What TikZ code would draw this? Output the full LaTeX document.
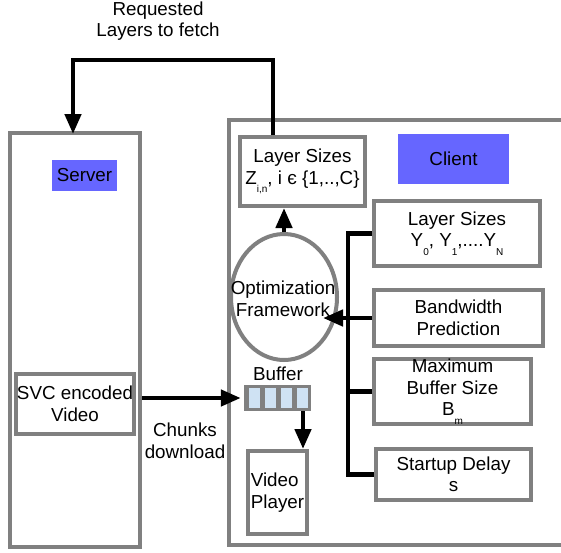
\documentclass[tikz,border=0pt]{standalone}
\usepackage{fontspec}
\setmainfont{Liberation Sans}
\usetikzlibrary{arrows.meta,shapes.geometric,calc}
\newcommand\sbs[1]{\raisebox{-0.45em}{\fontsize{10}{10}\selectfont #1}}
\newcommand\fsz{\fontsize{18.8}{21.5}\selectfont}
\definecolor{bgray}{RGB}{128,128,128}
\definecolor{lblue}{RGB}{102,102,255}
\definecolor{cellblue}{RGB}{207,226,243}
\begin{document}
\begin{tikzpicture}[x=1pt,y=-1pt,
  box/.style={draw=bgray,line width=4pt,inner sep=0pt,fill=white,align=center,font=\fsz,rectangle},
  lab/.style={fill=lblue,inner sep=0pt,font=\fsz},
  txt/.style={inner sep=0pt,align=center,font=\fsz},
  conn/.style={line width=4.5pt,line join=miter},
  arr/.style={conn,-{Triangle[length=20pt,width=16pt]}},
  cell/.style={fill=cellblue,draw=none,inner sep=0pt,minimum width=11pt,minimum height=20pt}
]
\useasboundingbox (0,0) rectangle (561,552);
\clip (0,0) rectangle (561,552);
% containers
\node[box,minimum width=371pt,minimum height=425pt] (client) at (414.5,332.5) {};
\node[box,minimum width=130pt,minimum height=414pt] (server) at (75,340) {};
\node[lab,minimum width=65pt,minimum height=31pt] (serverlab) at (84.5,175.5) {Server};
\node[lab,minimum width=111pt,minimum height=50pt] (clientlab) at (453.5,159) {Client};
% server content
\node[box,minimum width=118pt,minimum height=60pt] (svc) at (75,404) {SVC encoded\\Video};
% client content
\node[box,minimum width=125pt,minimum height=69pt] (zbox) at (302.5,171.5) {Layer Sizes\\Z\sbs{i,n}, i є \{1,..,C\}};
\node[box,minimum width=166pt,minimum height=65pt] (ybox) at (457,233.5) {Layer Sizes\\Y\sbs{0}, Y\sbs{1},....Y\sbs{N}};
\node[box,minimum width=169pt,minimum height=56pt] (bw) at (458.5,318) {Bandwidth\\Prediction};
\node[box,minimum width=157pt,minimum height=65pt] (mb) at (452.5,391.5) {Maximum\\Buffer Size\\B\sbs{m}};
\node[box,minimum width=155pt,minimum height=51pt] (sd) at (453.5,474.5) {Startup Delay\\s};
\node[box,minimum width=59pt,minimum height=83pt,align=left] (vp) at (277.5,492.5) {Video\\Player};
\node[box,shape=ellipse,minimum width=106pt,minimum height=126pt,fill=none] (opt) at (284,297) {};
\node[txt] (opttxt) at (283,299) {Optimization\\Framework};
% buffer
\node[fill=bgray,inner sep=0pt,minimum width=67pt,minimum height=26pt] (buffer) at (277.5,398) {};
\node[cell] (c1) at (254,398) {};
\node[cell] (c2) at (270,398) {};
\node[cell] (c3) at (286,398) {};
\node[cell] (c4) at (302,398) {};
\node[txt] (buflab) at (278,374) {Buffer};
% labels
\node[txt] (reqlab) at (158,21) {Requested\\Layers to fetch};
\node[txt] (chunklab) at (185,441) {Chunks\\download};
% connectors
\coordinate (busx) at (348,0);
\coordinate (optin) at (323,318);
\draw[arr] (273,0 |- zbox.north) -- (273,60) -- (73,60) -- ([yshift=-3pt]73,0 |- server.north);
\draw[arr] (opt.north) -- (opt.north |- zbox.south);
\draw[conn] (ybox.west) -- (busx |- ybox.west) -- (busx |- sd.west) -- (sd.west);
\draw[conn] (mb.west) -- (busx |- mb.west);
\draw[conn] (bw.west) -- (busx |- bw.west);
\draw[arr] (busx |- bw.west) -- (optin);
\draw[arr] (server.east |- buffer.west) -- ([xshift=-3pt]buffer.west);
\draw[arr] ([xshift=25.5pt]buffer.south) -- ([xshift=25.5pt]buffer.south |- vp.north);
\end{tikzpicture}
\end{document}
